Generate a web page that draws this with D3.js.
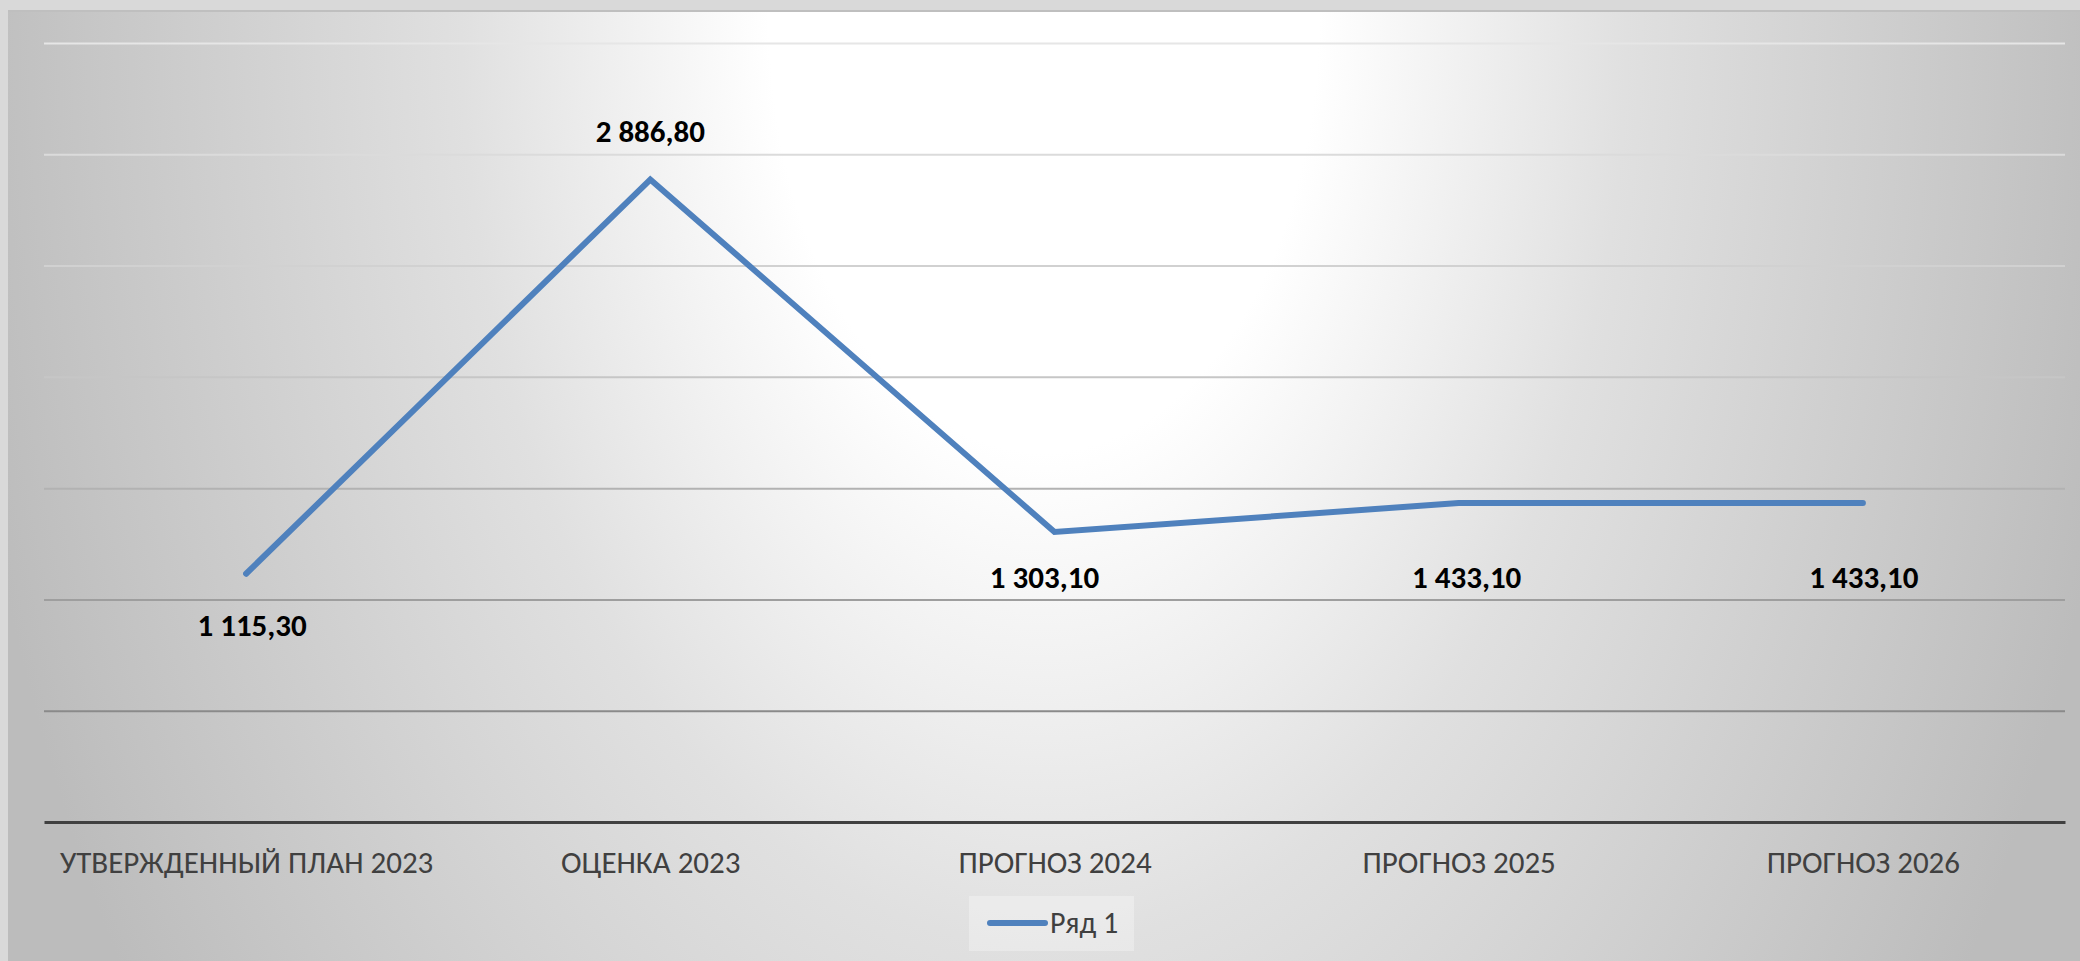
<!DOCTYPE html>
<html>
<head>
<meta charset="utf-8">
<script src="https://cdnjs.cloudflare.com/ajax/libs/d3/7.8.5/d3.min.js"></script>
<style>
  body { margin: 0; background: #d9d9d9; overflow: hidden; }
  text { font-family: Carlito, Lato, sans-serif; }
</style>
</head>
<body>
<div id="chart"></div>
<script>
// data
var categories = ["УТВЕРЖДЕННЫЙ ПЛАН 2023", "ОЦЕНКА 2023", "ПРОГНОЗ 2024", "ПРОГНОЗ 2025", "ПРОГНОЗ 2026"];
var values = [1115.3, 2886.8, 1303.1, 1433.1, 1433.1];
var labels = ["1 115,30", "2 886,80", "1 303,10", "1 433,10", "1 433,10"];
var gridTicks = [500, 1000, 1500, 2000, 2500, 3000, 3500];
var seriesName = "Ряд 1";

// label nudges [dx, dy] from the point, in px (layout only)
var labelNudge = [[6, 62], [0, -37], [-10, 56], [8, 85], [1, 85]];

(function() {
  var W = 2080, H = 961;
  var margin = { top: 43, left: 44, right: 15, bottom: 139 };

  var svg = d3.select("#chart")
      .append("svg")
      .attr("width", W)
      .attr("height", H);

  var defs = svg.append("defs");

  // background: white at top centre, grey towards the sides
  var bg = defs.append("radialGradient")
      .attr("id", "bg")
      .attr("gradientUnits", "userSpaceOnUse")
      .attr("cx", 1044).attr("cy", 12).attr("r", 1100)
      .attr("gradientTransform", "translate(1044,12) scale(1,1.6) translate(-1044,-12)");
  bg.append("stop").attr("offset", 0).attr("stop-color", "#ffffff");
  bg.append("stop").attr("offset", 0.25).attr("stop-color", "#ffffff");
  bg.append("stop").attr("offset", 0.53).attr("stop-color", "#e0e0e0");
  bg.append("stop").attr("offset", 1).attr("stop-color", "#bcbcbc");

  // chart area
  svg.append("rect")
      .attr("x", 8).attr("y", 10)
      .attr("width", W - 8).attr("height", H - 10)
      .attr("fill", "url(#bg)");
  svg.append("line")
      .attr("x1", 8).attr("x2", W)
      .attr("y1", 11).attr("y2", 11)
      .attr("stroke", "#bfbfbf")
      .attr("stroke-width", 2);

  var g = svg.append("g");

  var xScale = d3.scalePoint()
      .domain(categories)
      .range([margin.left, W - margin.right])
      .padding(0.5);

  var yScale = d3.scaleLinear()
      .domain([0, 3500])
      .range([H - margin.bottom, margin.top]);

  var gridColor = d3.scaleLinear()
      .domain([3500, 2000, 500])
      .range(["#e6e6e6", "#c6c6c6", "#8a8a8a"]);

  // gridlines
  var grid = d3.axisLeft(yScale)
      .tickValues(gridTicks)
      .tickSize(-(W - margin.right - margin.left))
      .tickFormat("");
  g.append("g")
      .attr("class", "grid")
      .attr("transform", "translate(" + margin.left + ",0)")
      .call(grid)
      .call(function(s) { s.select(".domain").remove() })
      .selectAll("line")
      .attr("stroke", function(d) { return gridColor(d) })
      .attr("stroke-width", 2);

  // x axis
  var xAxis = d3.axisBottom(xScale).tickSize(0).tickSizeOuter(0);
  var xg = g.append("g")
      .attr("class", "axis x-axis")
      .attr("transform", "translate(0," + yScale(0) + ")")
      .call(xAxis);
  xg.select(".domain")
      .attr("stroke", "#404040")
      .attr("stroke-width", 3);
  xg.selectAll("text")
      .attr("y", 51)
      .attr("dy", 0)
      .attr("fill", "#404040")
      .style("font-size", "31px");

  // line
  var line = d3.line()
      .x(function(d, i) { return xScale(categories[i]) })
      .y(function(d) { return yScale(d) });

  g.append("path")
      .datum(values)
      .attr("d", line)
      .attr("fill", "none")
      .attr("stroke", "#4f81bd")
      .attr("stroke-width", 6)
      .attr("stroke-linecap", "round")
      .attr("stroke-linejoin", "miter");

  // data labels
  g.selectAll(".label")
      .data(values)
      .enter().append("text")
      .attr("class", "label")
      .attr("x", function(d, i) { return xScale(categories[i]) + labelNudge[i][0] })
      .attr("y", function(d, i) { return yScale(d) + labelNudge[i][1] })
      .attr("text-anchor", "middle")
      .attr("fill", "#000")
      .style("font-size", "31px")
      .style("font-weight", "bold")
      .text(function(d, i) { return labels[i] });

  // legend
  var legend = g.append("g").attr("class", "legend");
  legend.append("rect")
      .attr("x", 969).attr("y", 896)
      .attr("width", 165).attr("height", 55)
      .attr("fill", "#ffffff")
      .attr("fill-opacity", 0.3);
  legend.append("line")
      .attr("x1", 990).attr("x2", 1045)
      .attr("y1", 923).attr("y2", 923)
      .attr("stroke", "#4f81bd")
      .attr("stroke-width", 6)
      .attr("stroke-linecap", "round");
  legend.append("text")
      .attr("x", 1050).attr("y", 933)
      .attr("fill", "#404040")
      .style("font-size", "30px")
      .text(seriesName);
})()
</script>
</body>
</html>
